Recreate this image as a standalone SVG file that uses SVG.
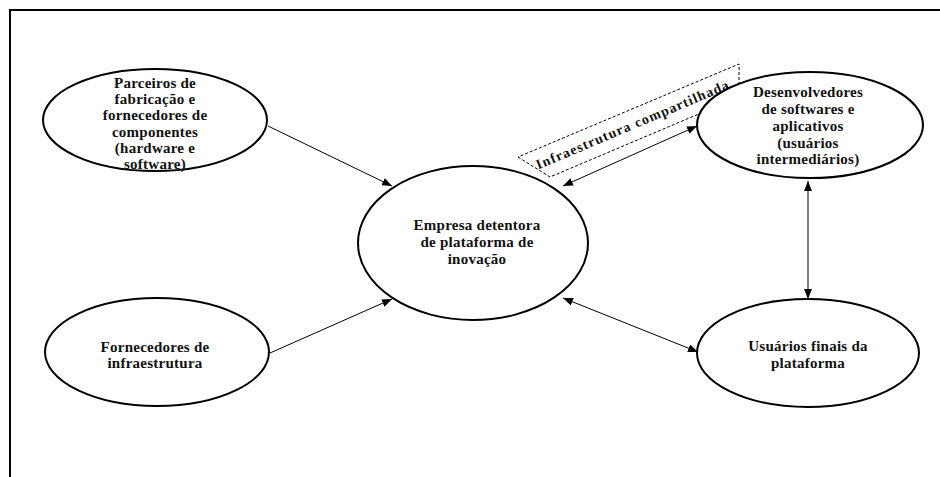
<svg xmlns="http://www.w3.org/2000/svg" width="940" height="477" viewBox="0 0 940 477">
<defs>
<marker id="ah" viewBox="0 0 10 8" refX="10" refY="4" markerWidth="10" markerHeight="8" markerUnits="userSpaceOnUse" orient="auto-start-reverse">
<path d="M0,0 L10,4 L0,8 Z" fill="#000"/>
</marker>
</defs>
<style>
.node ellipse{fill:#fff;stroke:#000;stroke-width:2}
.lbl{font-family:"Liberation Serif","Times New Roman",serif;font-weight:bold;font-size:15px;letter-spacing:0.25px;fill:#111;text-anchor:middle}
.conn line{stroke:#000;stroke-width:1}
.frame{stroke:#000;stroke-width:2;fill:none}
</style>
<rect width="940" height="477" fill="#fff"/>
<path class="frame" d="M10,477 L10,10 L940,10"/>
<g id="shared-infra">
<polygon points="518,157 550,177 739,97 739,64" fill="#fff" stroke="#000" stroke-width="1" stroke-dasharray="3,2"/>
<text class="lbl" x="0" y="0" style="font-size:14px;letter-spacing:0" textLength="208" lengthAdjust="spacing" transform="translate(634,129) rotate(-22.9)">Infraestrutura compartilhada</text>
</g>
<g id="connectors" class="conn">
<line x1="268" y1="126" x2="392" y2="186" marker-end="url(#ah)"/>
<line x1="270" y1="353" x2="392" y2="299" marker-end="url(#ah)"/>
<line x1="563" y1="186" x2="697" y2="126" marker-start="url(#ah)" marker-end="url(#ah)"/>
<line x1="563" y1="298" x2="698" y2="352" marker-start="url(#ah)" marker-end="url(#ah)"/>
<line x1="808" y1="181" x2="808" y2="299" stroke-width="1.5" marker-start="url(#ah)" marker-end="url(#ah)"/>
</g>
<g id="parceiros" class="node">
<ellipse cx="155" cy="120" rx="112" ry="51"/>
<text class="lbl" x="155" y="88">Parceiros de</text>
<text class="lbl" x="155" y="104.2">fabricação e</text>
<text class="lbl" x="155" y="120.4">fornecedores de</text>
<text class="lbl" x="155" y="136.6">componentes</text>
<text class="lbl" x="155" y="152.8">(hardware e</text>
<text class="lbl" x="155" y="169">software)</text>
</g>
<g id="fornecedores-infra" class="node">
<ellipse cx="157" cy="352" rx="112" ry="54"/>
<text class="lbl" x="155" y="352">Fornecedores de</text>
<text class="lbl" x="155" y="368">infraestrutura</text>
</g>
<g id="empresa" class="node">
<ellipse cx="473" cy="243" rx="115" ry="77"/>
<text class="lbl" x="477" y="230">Empresa detentora</text>
<text class="lbl" x="477" y="247">de plataforma de</text>
<text class="lbl" x="477" y="264">inovação</text>
</g>
<g id="desenvolvedores" class="node">
<ellipse cx="810" cy="125" rx="113" ry="53"/>
<text class="lbl" x="808" y="97">Desenvolvedores</text>
<text class="lbl" x="808" y="114">de softwares e</text>
<text class="lbl" x="808" y="131">aplicativos</text>
<text class="lbl" x="808" y="147.5">(usuários</text>
<text class="lbl" x="808" y="164">intermediários)</text>
</g>
<g id="usuarios-finais" class="node">
<ellipse cx="808" cy="353" rx="111" ry="54"/>
<text class="lbl" x="808" y="351">Usuários finais da</text>
<text class="lbl" x="808" y="368">plataforma</text>
</g>
</svg>
